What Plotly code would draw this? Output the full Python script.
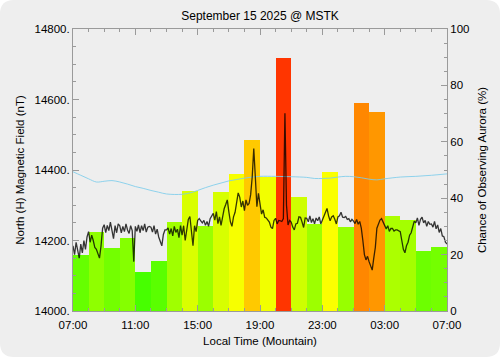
import plotly.graph_objects as go

# ---------------- data ----------------
# Hourly aurora chance (%), hour 0 = 07:00 local
aurora_hours = [h + 0.5 for h in range(24)]
aurora_pct = [20, 28, 22.5, 26, 14, 17.7, 31.4, 42.5, 30.3, 42.2, 48.5, 60.6,
              47.5, 89.6, 40.3, 30.7, 49.3, 29.9, 73.6, 70.4, 33.8, 32.2, 21.3, 22.8]

# North (H) magnetic field, nT (10 samples per hour, offset from 14000)
field_offsets = [
    185, 160, 195, 170, 150, 190, 165, 200, 175, 210,   # 07
    225, 195, 215, 200, 180, 175, 160, 150, 185, 235,   # 08
    245, 222, 243, 228, 252, 232, 205, 242, 222, 247,   # 09
    242, 222, 240, 225, 247, 230, 220, 242, 228, 140,   # 10
    240, 226, 244, 222, 242, 228, 247, 224, 238, 240,   # 11
    238, 224, 242, 218, 232, 210, 200, 185, 217, 230,   # 12
    230, 236, 218, 234, 213, 240, 223, 232, 208, 242,   # 13
    215, 242, 200, 232, 260, 268, 230, 185, 242, 225,   # 14
    257, 262, 256, 250, 257, 243, 254, 240, 262, 270,   # 15
    277, 258, 282, 248, 267, 243, 272, 290, 302, 315,   # 16
    282, 253, 240, 267, 280, 312, 335, 323, 295, 312,   # 17
    285, 315, 300, 305, 330, 380, 461, 380, 296, 334,   # 18
    302, 275, 287, 266, 264, 256, 252, 238, 234, 257,   # 19
    263, 247, 257, 256, 254, 262, 561, 300, 244, 257,   # 20
    252, 238, 230, 247, 249, 267, 266, 252, 237, 264,   # 21
    263, 253, 270, 251, 262, 247, 264, 256, 267, 247,   # 22
    257, 266, 277, 291, 270, 256, 267, 270, 260, 247,   # 23
    267, 270, 280, 266, 265, 268, 260, 262, 253, 260,   # 00
    255, 248, 260, 246, 254, 235, 200, 160, 145, 155,   # 01
    140, 130, 116, 150, 180, 235, 245, 258, 262, 252,   # 02
    247, 233, 242, 226, 234, 234, 227, 230, 230, 228,   # 03
    225, 200, 175, 165, 185, 195, 215, 222, 240, 255,   # 04
    250, 264, 243, 260, 266, 250, 257, 240, 254, 246,   # 05
    247, 238, 254, 233, 244, 223, 234, 213, 211, 195,   # 06
    190,
]
field_hours = [i / 10 for i in range(len(field_offsets))]
field_nT = [14000 + v for v in field_offsets]

# Quiet-day baseline curve, nT
base_hours = [0, 0.5, 1, 1.5, 2, 2.5, 3, 3.5, 4, 4.5, 5, 5.5, 6, 7, 7.5, 8, 8.5, 9, 9.5,
              10, 10.5, 11, 11.5, 12, 13, 14, 15, 15.5, 16, 16.5, 17, 17.5, 18, 18.5,
              19, 19.5, 20, 21, 22, 23, 24]
base_nT = [14395, 14385, 14375, 14366, 14368, 14370, 14366, 14360, 14353, 14348, 14342,
           14337, 14332, 14331, 14335, 14342, 14350, 14357, 14363, 14369, 14373, 14377,
           14380, 14382, 14382, 14381, 14379, 14376, 14376, 14377, 14380, 14382, 14381,
           14378, 14374, 14372, 14375, 14380, 14382, 14385, 14389]

x_tickvals = [0, 4, 8, 12, 16, 20, 24]
x_ticktext = ["07:00", "11:00", "15:00", "19:00", "23:00", "03:00", "07:00"]
left_tickvals = [14000, 14200, 14400, 14600, 14800]
left_ticktext = ["14000.", "14200.", "14400.", "14600.", "14800."]
right_tickvals = [0, 20, 40, 60, 80, 100]

# ---------------- figure ----------------
W, H = 500, 357
L, R, T, B = 73, 53, 29, 46
pw, ph = W - L - R, H - T - B
FONT = "Liberation Sans, Arial, sans-serif"

fig = go.Figure()

fig.add_trace(go.Bar(
    x=aurora_hours, y=aurora_pct, width=1, yaxis="y", xaxis="x",
    marker=dict(color=aurora_pct, cmin=0, cmax=100,
                colorscale=[[0, "#00ff00"], [0.5, "#ffff00"], [1, "#ff0000"]],
                line=dict(width=0)),
    showlegend=False, hoverinfo="skip",
))
fig.add_trace(go.Scatter(
    x=base_hours, y=base_nT, yaxis="y2", mode="lines",
    line=dict(color="rgba(125,205,235,0.85)", width=1, shape="spline"),
    showlegend=False,
))
fig.add_trace(go.Scatter(
    x=field_hours, y=field_nT, yaxis="y2", mode="lines",
    line=dict(color="rgba(0,0,0,0.78)", width=1.3),
    showlegend=False,
))

def px2x(px):
    return (px - L) / pw

def py2y(py):
    return (H - B - py) / ph

r = 14
pts = [
    ("M", [(r, 0)]), ("L", [(W - r, 0)]), ("Q", [(W, 0), (W, r)]),
    ("L", [(W, H - r)]), ("Q", [(W, H), (W - r, H)]), ("L", [(r, H)]),
    ("Q", [(0, H), (0, H - r)]), ("L", [(0, r)]), ("Q", [(0, 0), (r, 0)]),
]
path = ""
for cmd, ps in pts:
    path += cmd + " " + " ".join(f"{px2x(a):.5f},{py2y(b):.5f}" for a, b in ps) + " "
path += "Z"

axis_col = "#9a9a9a"
tickfont = dict(size=11.5)
titlefont = dict(size=11.5)
fig.update_layout(
    width=W, height=H,
    margin=dict(l=L, r=R, t=T, b=B, pad=0),
    paper_bgcolor="white", plot_bgcolor="rgba(0,0,0,0)",
    font=dict(family=FONT, size=12, color="black"),
    bargap=0,
    title=dict(text="September 15 2025 @ MSTK", x=260 / W,
               xanchor="center", y=1 - 16 / H, yanchor="middle",
               font=dict(size=12)),
    shapes=[dict(type="path", path=path, xref="paper", yref="paper",
                 fillcolor="#eeeeee", line=dict(width=0), layer="below")],
    xaxis=dict(range=[0, 24], tickmode="array", tickvals=x_tickvals,
               ticktext=x_ticktext, ticks="inside", ticklen=6, tickcolor=axis_col,
               showline=True, linecolor=axis_col, linewidth=1, mirror="ticks",
               showgrid=False, zeroline=False, tickfont=tickfont,
               ticklabelstandoff=3,
               minor=dict(tickmode="linear", tick0=0, dtick=1, ticks="inside",
                          ticklen=3, tickcolor=axis_col, showgrid=False),
               title=dict(text="Local Time (Mountain)", standoff=7, font=titlefont),
               fixedrange=True),
    yaxis=dict(range=[0, 100], side="right", tickmode="array",
               tickvals=right_tickvals, ticks="inside", ticklen=6,
               tickcolor=axis_col, showline=True, linecolor=axis_col,
               linewidth=1, showgrid=False, zeroline=False, tickfont=tickfont,
               minor=dict(tickmode="linear", tick0=0, dtick=5, ticks="inside",
                          ticklen=3, tickcolor=axis_col, showgrid=False),
               title=dict(text="Chance of Observing Aurora (%)", standoff=9,
                          font=titlefont)),
    yaxis2=dict(range=[14000, 14800], side="left", overlaying="y",
                tickmode="array", tickvals=left_tickvals,
                ticktext=left_ticktext, ticks="inside", ticklen=6,
                tickcolor=axis_col, showline=True, linecolor=axis_col,
                linewidth=1, showgrid=False, zeroline=False, tickfont=tickfont,
                minor=dict(tickmode="linear", tick0=14000, dtick=50,
                           ticks="inside", ticklen=3, tickcolor=axis_col,
                           showgrid=False),
                title=dict(text="North (H) Magnetic Field (nT)", standoff=7,
                           font=titlefont)),
)

fig.write_html("out.html", config={"displayModeBar": False},
               post_script="document.body.style.margin='0';document.body.style.padding='0';")
